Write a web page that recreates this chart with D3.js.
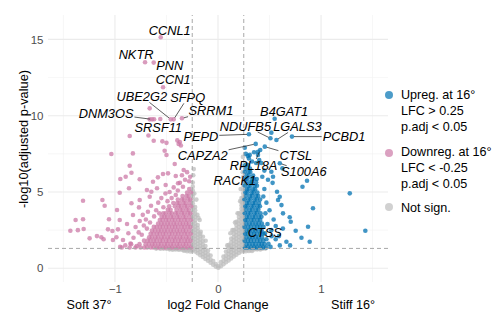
<!DOCTYPE html>
<html>
<head>
<meta charset="utf-8">
<script src="https://cdn.jsdelivr.net/npm/d3@7"></script>
<style>
  body { margin: 0; background: #fff; }
  svg { font-family: "Liberation Sans", Arial, sans-serif; }
  .tick text { fill: #4d4d4d; font-size: 11.5px; }
  .gene { font-style: italic; font-size: 12.8px; fill: #000; }
  .legend text { font-size: 12.6px; fill: #000; }
</style>
</head>
<body>
<svg width="504" height="326"></svg>
<script>
// ---- data: log2 fold change and -log10(p.adj) ----

// labelled genes
var geneNames = ["CCNL1", "NKTR", "PNN", "CCN1", "UBE2G2", "SFPQ", "DNM3OS", "SRSF11", "SRRM1",
                 "PEPD", "NDUFB5", "B4GAT1", "LGALS3", "PCBD1", "CAPZA2", "CTSL", "RPL18A", "S100A6", "RACK1", "CTSS"];
var geneLfc  = [-0.556, -0.708, -0.624, -0.533, -0.458, -0.43, -0.64, -0.56, -0.35,
                 0.30, 0.509, 0.55, 0.567, 0.718, 0.366, 0.454, 0.41, 0.60, 0.376, 0.56];
var geneP    = [15.14, 13.50, 13.48, 11.86, 9.76, 9.76, 9.76, 9.78, 9.83,
                 8.78, 8.52, 9.80, 8.41, 8.63, 8.15, 7.97, 7.75, 6.88, 5.85, 2.77];

// scattered down-regulated genes [lfc, p]
var downSparse = [
  [-0.663,10.48],[-0.62,9.77],[-0.663,9.76],[-0.857,8.67],[-0.675,8.70],[-0.624,8.36],[-0.54,8.32],[-0.50,8.22],
  [-0.395,8.38],[-0.37,8.27],[-0.382,8.15],[-0.36,8.05],[-1.035,7.49],[-0.826,7.53],[-0.518,7.70],[-0.50,7.42],
  [-0.857,6.72],[-0.42,6.83],[-0.948,5.85],[-0.896,6.0],[-0.84,6.26],[-0.76,5.83],[-0.954,4.95],[-0.864,5.24],
  [-1.31,4.43],[-1.122,4.47],[-1.10,4.10],[-1.382,3.16],[-1.31,3.21],[-1.433,2.46],[-1.36,2.5],[-1.304,2.57],
  [-1.246,1.96],[-1.175,2.11],[-1.132,2.03],[-1.11,1.9],[-1.058,3.21],[-1.068,2.55],[-1.025,2.44],[-0.98,3.82],
  [-0.954,3.16],[-0.971,2.55],[-1.02,1.85],[-0.986,2.03],[-0.922,1.85],[-0.883,2.9],[-0.84,4.26],[-0.825,3.49],
  [-0.76,4.47],[-0.767,3.99],[-0.69,5.13],[-0.647,5.02],[-0.663,4.69],[-0.631,5.67],[-0.583,5.96],[-0.592,5.24],
  [-0.534,6.18],[-0.485,6.22],[-0.508,5.46],[-0.41,6.05],[-0.333,6.44],[-0.388,5.57],[-0.34,5.34],
  [-0.9,1.5],[-0.87,2.3],[-0.85,1.62],[-0.82,2.0],[-0.8,2.7],[-0.79,1.45],[-0.77,2.35],[-0.76,3.1],[-0.74,2.2],
  [-0.73,3.5],[-0.72,2.8],[-0.70,3.2],[-0.69,2.6],[-0.68,3.7],[-0.66,3.0],[-0.65,4.1],[-0.62,3.4],[-0.60,3.8],
  [-0.58,4.3],[-0.57,3.6],[-0.55,4.6],[-0.53,4.0],[-0.51,4.9],[-0.49,4.4],[-0.47,5.0],[-0.45,4.6],[-0.43,5.3],
  [-0.41,4.8],[-0.39,5.1],[-0.37,5.6],[-0.35,6.1],[-0.32,5.8],[-0.30,6.3],[-0.28,5.7],[-0.27,6.0],[-0.95,1.4]
];
// dense down-regulated block, rows of [p, lfc values]
var downDense = [
  [1.36, [-0.262,-0.293,-0.327,-0.354,-0.388,-0.413,-0.447,-0.474,-0.506,-0.533,-0.567,-0.594,-0.627,-0.653,-0.688,-0.716,-0.752,-0.801,-0.858,-0.934]],
  [1.58, [-0.279,-0.311,-0.338,-0.372,-0.398,-0.432,-0.459,-0.492,-0.518,-0.552,-0.579,-0.612,-0.638,-0.671,-0.703,-0.762,-0.843]],
  [1.81, [-0.266,-0.296,-0.323,-0.357,-0.384,-0.417,-0.443,-0.477,-0.503,-0.537,-0.563,-0.597,-0.624,-0.657,-0.683,-0.718]],
  [2.03, [-0.281,-0.308,-0.342,-0.368,-0.401,-0.428,-0.462,-0.488,-0.522,-0.548,-0.582,-0.608,-0.642,-0.668]],
  [2.26, [-0.264,-0.297,-0.324,-0.356,-0.386,-0.414,-0.446,-0.473,-0.507,-0.534,-0.566,-0.593,-0.626,-0.654]],
  [2.48, [-0.278,-0.312,-0.339,-0.371,-0.399,-0.431,-0.458,-0.491,-0.519,-0.551,-0.578,-0.611,-0.641]],
  [2.71, [-0.267,-0.294,-0.326,-0.353,-0.387,-0.416,-0.444,-0.476,-0.504,-0.536,-0.564,-0.596,-0.623]],
  [2.93, [-0.282,-0.309,-0.341,-0.369,-0.402,-0.429,-0.461,-0.489,-0.521,-0.549,-0.581]],
  [3.16, [-0.263,-0.298,-0.325,-0.358,-0.385,-0.418,-0.445,-0.478,-0.505,-0.538,-0.565]],
  [3.38, [-0.277,-0.313,-0.337,-0.373,-0.397,-0.433,-0.457,-0.493,-0.52,-0.547]],
  [3.61, [-0.268,-0.292,-0.328,-0.352,-0.389,-0.412,-0.448,-0.472,-0.508,-0.532]],
  [3.83, [-0.283,-0.307,-0.343,-0.367,-0.403,-0.46,-0.487]],
  [4.06, [-0.261,-0.299,-0.322,-0.359,-0.383,-0.419,-0.474]],
  [4.28, [-0.276,-0.314,-0.336,-0.374,-0.396,-0.434]],
  [4.51, [-0.269,-0.291,-0.329,-0.351,-0.39]],
  [4.74, [-0.284,-0.306,-0.344]],
  [4.97, [-0.262,-0.3]],
  [5.2,  [-0.279]]
];

// scattered up-regulated genes [lfc, p]
var upSparse = [
  [0.518,8.89],[0.308,7.43],[0.388,7.43],[0.625,6.55],[0.518,6.33],[0.534,6.0],[0.864,5.74],[0.82,5.34],
  [1.279,4.91],[0.573,5.02],[0.599,4.69],[0.583,4.47],[0.922,3.93],[0.616,4.14],[0.696,3.34],[0.706,3.05],
  [0.631,3.6],[0.874,2.72],[0.754,2.46],[1.43,2.46],[0.89,1.74],[0.664,1.74],[0.592,2.11],[0.518,2.5],[0.81,2.0],
  [0.45,5.2],[0.47,4.3],[0.46,3.6],[0.48,2.9],[0.50,3.8],[0.49,1.6],[0.52,2.1],[0.44,4.7],[0.455,2.3],[0.47,1.9],
  [0.51,1.4],[0.43,6.0],[0.45,6.4],[0.42,6.9],[0.40,7.1],[0.27,7.5],[0.30,7.2],[0.35,7.6],[0.33,7.0],[0.37,6.9],
  [0.26,7.9],[0.54,3.2],[0.53,5.6],[0.485,5.8],[0.56,1.9],[0.60,1.5],[0.63,2.6],[0.70,1.5],[0.29,7.36],[0.388,7.64]
];
// dense up-regulated column, rows of [p, lfc values]
var upDense = [
  [1.36, [0.262,0.288,0.321,0.352,0.379,0.412,0.438,0.468]],
  [1.58, [0.276,0.304,0.336,0.364,0.397,0.424,0.452]],
  [1.81, [0.259,0.291,0.318,0.349,0.382,0.409,0.441]],
  [2.03, [0.274,0.307,0.333,0.367,0.393,0.427]],
  [2.26, [0.263,0.289,0.322,0.351,0.378,0.411,0.439]],
  [2.48, [0.277,0.303,0.337,0.363,0.396,0.423]],
  [2.71, [0.258,0.292,0.319,0.353,0.381,0.408,0.442]],
  [2.93, [0.273,0.306,0.334,0.366,0.394,0.426]],
  [3.16, [0.264,0.287,0.323,0.348,0.383,0.41]],
  [3.38, [0.278,0.302,0.338,0.362,0.397,0.422]],
  [3.61, [0.26,0.293,0.317,0.354,0.377,0.413]],
  [3.83, [0.272,0.308,0.332,0.368,0.392]],
  [4.06, [0.265,0.286,0.324,0.347,0.384,0.407]],
  [4.28, [0.279,0.301,0.339,0.361,0.398]],
  [4.51, [0.257,0.294,0.316,0.355,0.376,0.409]],
  [4.73, [0.271,0.309,0.331,0.369,0.391]],
  [4.96, [0.266,0.285,0.325,0.346,0.382]],
  [5.18, [0.28,0.30,0.34,0.36]],
  [5.41, [0.259,0.295,0.315,0.356,0.378]],
  [5.63, [0.27,0.31,0.33,0.37]],
  [5.86, [0.267,0.284,0.326,0.345]],
  [6.08, [0.276,0.299,0.341]],
  [6.31, [0.26,0.296,0.314]],
  [6.53, [0.269,0.311]],
  [6.76, [0.264,0.29]]
];

// not significant genes, columns of [lfc, p values]
var nsCols = [
  [-0.245, [1.18,1.38,1.58,1.79,2.0,2.2,2.41,2.61,2.82,3.02,3.23,3.43,3.64,3.85,4.05,4.26,4.46,4.67,4.88,5.1,5.35,5.62]],
  [-0.222, [1.1,1.3,1.51,1.71,1.92,2.12,2.33,2.53,2.74,2.95,3.15,3.36,3.57,3.8,4.02]],
  [-0.197, [0.99,1.19,1.4,1.6,1.81,2.02,2.22,2.43,2.63,2.84]],
  [-0.172, [0.86,1.06,1.27,1.47,1.68,1.89,2.1,2.26]],
  [-0.147, [0.74,0.94,1.15,1.36,1.56,1.78]],
  [-0.122, [0.61,0.82,1.02,1.23,1.46]],
  [-0.097, [0.49,0.7,0.91,1.16]],
  [-0.072, [0.36,0.57,0.84]],
  [-0.047, [0.23,0.47]],
  [-0.022, [0.11,0.28]],
  [0.003,  [0.03,0.14]],
  [0.028,  [0.14,0.4]],
  [0.053,  [0.26,0.5,0.76]],
  [0.078,  [0.39,0.61,0.84,1.1]],
  [0.103,  [0.51,0.72,0.93,1.14,1.38,1.52]],
  [0.128,  [0.64,0.85,1.06,1.27,1.48,1.7,1.94]],
  [0.153,  [0.77,0.98,1.19,1.4,1.61,1.83,2.04,2.26,2.5]],
  [0.178,  [0.89,1.1,1.31,1.52,1.73,1.95,2.16,2.38,2.6,2.83,3.05]],
  [0.203,  [1.0,1.21,1.42,1.63,1.84,2.06,2.27,2.49,2.7,2.92,3.14,3.36,3.6]],
  [0.228,  [1.1,1.31,1.52,1.73,1.94,2.16,2.37,2.59,2.8,3.02,3.24,3.46,3.68,3.9,4.12,4.35,4.6]],
  [0.245,  [1.18,1.39,1.6,1.81,2.02,2.24,2.45,2.67,2.88,3.1,3.32,3.54,3.76,3.98,4.2,4.43,4.66,4.9,5.15,5.42,5.7,5.98]]
];
var nsSparse = [
  [0.24,6.3],[0.235,6.7],[0.242,7.3],[0.22,5.2],[0.215,4.4],[0.19,3.6],[0.165,3.0],[0.14,2.5],[-0.24,6.1],
  [-0.235,6.5],[-0.21,4.5],[-0.19,3.3],[-0.168,2.39],[-0.146,2.07],[-0.178,3.16],[-0.20,3.5],[-0.12,1.8],
  [0.12,2.3],[0.09,1.5],[-0.23,4.9],
  [-0.27,1.1],[-0.30,1.12],[-0.33,1.15],[-0.26,1.2],[-0.29,1.21],[-0.32,1.2],[-0.35,1.22],[-0.38,1.21],
  [-0.41,1.23],[-0.44,1.22],[-0.47,1.24],[-0.28,1.28],[-0.31,1.27],[-0.345,1.28],[-0.375,1.27],[-0.405,1.28],
  [-0.435,1.28],[-0.465,1.29],[-0.5,1.28],[-0.53,1.29],[-0.56,1.28],[-0.6,1.29],
  [0.27,1.12],[0.30,1.14],[0.33,1.13],[0.26,1.22],[0.29,1.23],[0.32,1.22],[0.35,1.23],[0.38,1.24],[0.41,1.23],
  [0.28,1.28],[0.31,1.28],[0.34,1.29],[0.37,1.28],[0.40,1.29],[0.43,1.28],[0.46,1.29]
];

var xMajor = [-1, 0, 1], xMinor = [-1.5, -0.5, 0.5, 1.5];
var yMajor = [0, 5, 10, 15], yMinor = [2.5, 7.5, 12.5];
var lfcCut = 0.25, padjLine = -Math.log10(0.05);

// label placement (pixel offset of the label centre from its point)
var labelNudge = {
  CCNL1: [9, -7], NKTR: [-9, -8], PNN: [16, 2.5], CCN1: [10, -8], UBE2G2: [-29, -23],
  SFPQ: [14, -22], DNM3OS: [-46, -6], SRSF11: [-2, 8], SRRM1: [29, -7.6], PEPD: [-48, 1.7],
  NDUFB5: [-25, -12.3], B4GAT1: [9.5, -7.7], LGALS3: [21, -13.5], PCBD1: [52, 0],
  CAPZA2: [-53, 11.5], CTSL: [31, 9], RPL18A: [-6.7, 15], S100A6: [24, 8.4], RACK1: [-22, 1.7], CTSS: [-11, 6.7]
};

var colUp = "#0072B2", colDown = "#CC79A7", colNs = "#BEBEBE";

// ---- drawing ----
var svg = d3.select("svg");

var x = d3.scaleLinear().domain([-1.65, 1.65]).range([48, 388]);
var y = d3.scaleLinear().domain([-0.9, 16.6]).range([282, 15]);

var grid = svg.append("g");
grid.selectAll(".vmin").data(xMinor).enter().append("line")
  .attr("x1", x).attr("x2", x).attr("y1", y.range()[0]).attr("y2", y.range()[1])
  .attr("stroke", "#f2f2f2").attr("stroke-width", 0.6);
grid.selectAll(".hmin").data(yMinor).enter().append("line")
  .attr("y1", y).attr("y2", y).attr("x1", x.range()[0]).attr("x2", x.range()[1])
  .attr("stroke", "#f2f2f2").attr("stroke-width", 0.6);
grid.selectAll(".vmaj").data(xMajor).enter().append("line")
  .attr("x1", x).attr("x2", x).attr("y1", y.range()[0]).attr("y2", y.range()[1])
  .attr("stroke", "#ebebeb").attr("stroke-width", 1.1);
grid.selectAll(".hmaj").data(yMajor).enter().append("line")
  .attr("y1", y).attr("y2", y).attr("x1", x.range()[0]).attr("x2", x.range()[1])
  .attr("stroke", "#ebebeb").attr("stroke-width", 1.1);

// axes
var xAxis = svg.append("g").attr("transform", "translate(0," + y.range()[0] + ")")
  .call(d3.axisBottom(x).tickValues(xMajor).tickSize(0).tickPadding(3).tickFormat(d3.format("d")));
var yAxis = svg.append("g").attr("transform", "translate(" + x.range()[0] + ",0)")
  .call(d3.axisLeft(y).tickValues(yMajor).tickSize(0).tickPadding(4.5));
xAxis.select(".domain").remove();
yAxis.select(".domain").remove();
svg.selectAll(".tick text").attr("font-family", null).attr("font-size", null);

// flatten point sets
var nsPts = [], downPts = downSparse.slice(), upPts = upSparse.slice();
nsCols.forEach(function(c) { c[1].forEach(function(p) { nsPts.push([c[0], p]); }); });
nsPts = nsPts.concat(nsSparse);
downDense.forEach(function(r) { r[1].forEach(function(l) { downPts.push([l, r[0]]); }); });
upDense.forEach(function(r) { r[1].forEach(function(l) { upPts.push([l, r[0]]); }); });

var genes = geneNames.map(function(n, i) { return { name: n, lfc: geneLfc[i], p: geneP[i] }; });
genes.forEach(function(g) {
  (g.lfc > 0 ? upPts : downPts).push([g.lfc, g.p]);
});

function drawPts(data, col) {
  svg.append("g").selectAll("circle").data(data).enter().append("circle")
    .attr("cx", function(d) { return x(d[0]); })
    .attr("cy", function(d) { return y(d[1]); })
    .attr("r", 2.3)
    .attr("fill", col)
    .attr("fill-opacity", 0.75);
}
drawPts(nsPts, colNs);
drawPts(downPts, colDown);
drawPts(upPts, colUp);

// threshold lines
var th = svg.append("g").attr("stroke", "#a8a8a8").attr("stroke-width", 1).attr("stroke-dasharray", "4,3");
[-lfcCut, lfcCut].forEach(function(v) {
  th.append("line").attr("x1", x(v)).attr("x2", x(v)).attr("y1", y.range()[0]).attr("y2", y.range()[1]);
});
th.append("line").attr("x1", x.range()[0]).attr("x2", x.range()[1]).attr("y1", y(padjLine)).attr("y2", y(padjLine));

// gene labels with repel-style segments
var lab = svg.append("g");
genes.forEach(function(g) {
  var px = x(g.lfc), py = y(g.p);
  var off = labelNudge[g.name];
  var cx = px + off[0], cy = py + off[1];
  var t = lab.append("text").attr("class", "gene")
    .attr("x", cx).attr("y", cy).attr("dy", "0.36em")
    .attr("text-anchor", "middle").text(g.name);
  var hw = t.node().getComputedTextLength() / 2 + 1, hh = 6;
  var dx = px - cx, dy = py - cy;
  var s = Math.min(dx ? hw / Math.abs(dx) : Infinity, dy ? hh / Math.abs(dy) : Infinity);
  if (s >= 1) return;
  var ex = cx + dx * s, ey = cy + dy * s;
  var len = Math.hypot(px - ex, py - ey);
  if (len < 4) return;
  var k = (len - 2) / len;
  lab.append("line")
    .attr("x1", ex).attr("y1", ey)
    .attr("x2", ex + (px - ex) * k).attr("y2", ey + (py - ey) * k)
    .attr("stroke", "#1a1a1a").attr("stroke-width", 0.7);
});

// axis titles
svg.append("text").attr("x", 218).attr("y", 308.5).attr("text-anchor", "middle")
  .attr("font-size", 12.8).text("log2 Fold Change");
svg.append("text").attr("x", 89).attr("y", 308.5).attr("text-anchor", "middle")
  .attr("font-size", 12.6).text("Soft 37°");
svg.append("text").attr("x", 353).attr("y", 308.5).attr("text-anchor", "middle")
  .attr("font-size", 12.6).text("Stiff 16°");
svg.append("text").attr("transform", "translate(27.5,139) rotate(-90)").attr("text-anchor", "middle")
  .attr("font-size", 12.8).text("-log10(adjusted p-value)");

// legend
var legendItems = [
  { col: colUp, cy: 95, lines: ["Upreg. at 16°", "LFC > 0.25", "p.adj < 0.05"], ty: 94 },
  { col: colDown, cy: 153, lines: ["Downreg. at 16°", "LFC < -0.25", "p.adj < 0.05"], ty: 151.5 },
  { col: colNs, cy: 207, lines: ["Not sign."], ty: 207 }
];
var lg = svg.append("g").attr("class", "legend");
legendItems.forEach(function(it) {
  lg.append("circle").attr("cx", 389).attr("cy", it.cy).attr("r", 4)
    .attr("fill", it.col).attr("fill-opacity", 0.7);
  it.lines.forEach(function(l, i) {
    lg.append("text").attr("x", 401).attr("y", it.ty + i * 16).attr("dy", "0.36em").text(l);
  });
});
</script>
</body>
</html>
